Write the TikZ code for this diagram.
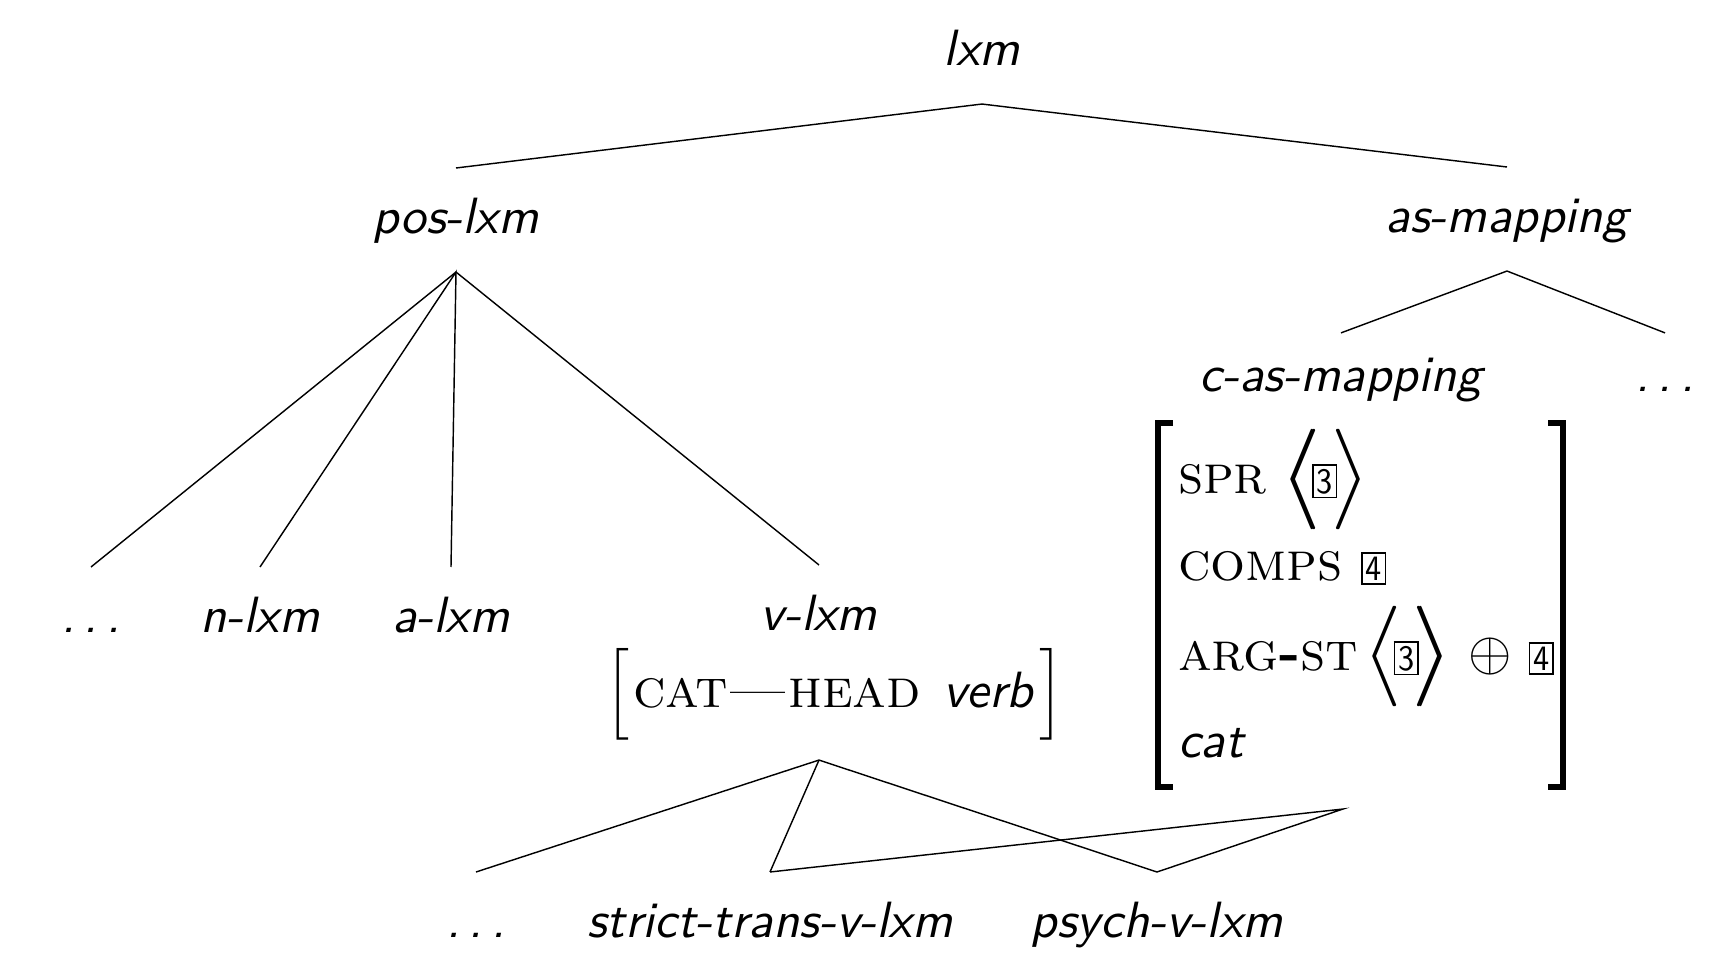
\documentclass[tikz,border=0pt]{standalone}
\usepackage{amsmath}
\newcommand{\tagbox}[1]{{\setlength{\fboxsep}{0.6pt}\setlength{\fboxrule}{0.3pt}\fbox{\scalebox{0.85}[1]{\fontsize{7}{7}\selectfont\sffamily #1}}}}
\newcommand{\sdots}{.\kern0.17em.\kern0.17em.}
\newcommand{\bla}{\makebox[0pt][l]{$\Big\langle$}\kern0.3pt$\Big\langle$\kern-1.6pt}
\newcommand{\bra}{\kern-1.2pt\makebox[0pt][l]{$\Big\rangle$}\kern0.3pt$\Big\rangle$}
\newcommand{\featfont}{\fontsize{10.8}{13}\selectfont}
\begin{document}
\begin{tikzpicture}[x=0.19608pt,y=-0.19608pt,
  lbl/.style={font=\sffamily\itshape, inner sep=0pt, text height=12.55pt, text depth=7.45pt, anchor=base},
  feat/.style={inner sep=0pt, anchor=base west, font=\featfont},
  edge/.style={line width=0.28pt},
  brk/.style={line width=1.1pt}]
\useasboundingbox (0,0) rectangle (1714,952);
% labels
\node[lbl] (lxm) at (982,65) {lxm};
\node[lbl] (poslxm) at (456,233) {pos-lxm};
\node[lbl] (asm) at (1507,232) {as-mapping};
\node[lbl,text height=11.2pt,text depth=1pt] (casm) at (1341,391) {c-as-mapping};
\node[lbl,text height=11.2pt,text depth=1pt] (asdots) at (1665,391) {\sdots};
\node[lbl] (pdots) at (91,632) {\sdots};
\node[lbl] (nlxm) at (260,632) {n-lxm};
\node[lbl] (alxm) at (451,632) {a-lxm};
\node[lbl] (vlxm) at (819,630) {v-lxm};
\node[anchor=base, inner xsep=0pt, inner ysep=3.7pt] (cathead) at (835,707)
  {$\Big[$\kern0.6pt{\featfont\textsc{cat}\kern0.5pt---\kern0.5pt\textsc{head}}\kern4.3pt\textsf{\textit{verb}}\kern1pt$\Big]$};
\node[lbl] (vdots) at (476,937) {\sdots};
\node[lbl] (strict) at (770,937) {strict-trans-v-lxm};
\node[lbl] (psych) at (1157,937) {psych-v-lxm};
% AVM of c-as-mapping
\coordinate (avmnw) at (1158,423);
\coordinate (avmse) at (1563,787);
\draw[brk] ([xshift=15*0.19608pt]avmnw) -- (avmnw) -- (avmnw |- avmse) -- ++(15,0);
\draw[brk] ([xshift=-15*0.19608pt]avmnw -| avmse) -- (avmnw -| avmse) -- (avmse) -- ++(-15,0);
\node[feat] (spr) at (1177,493) {\textsc{spr}\kern3.4pt\bla\tagbox{3}\bra};
\node[feat] (comps) at (1177,580) {\textsc{comps} \tagbox{4}};
\node[feat] (argst) at (1177,670) {\textsc{arg}\textbf{-}\textsc{st}\kern1.6pt\bla\tagbox{3}\bra\kern4pt$\oplus$\kern3.2pt\tagbox{4}};
\node[lbl,anchor=base west,text height=0pt,text depth=0pt] (cat) at (1177,757) {cat};
\coordinate (avmfoot) at (1343,809);
\coordinate (vfoot) at (cathead.south -| vlxm.base);
% edges
\draw[edge] (poslxm.north) -- (lxm.south) -- (asm.north);
\draw[edge] (pdots.north) -- (poslxm.south) -- (vlxm.north);
\draw[edge] (nlxm.north) -- (poslxm.south) -- (alxm.north);
\draw[edge] (casm.north) -- (asm.south) -- (asdots.north);
\draw[edge] (vdots.north) -- (vfoot) -- (psych.north);
\draw[edge] (vfoot) -- (strict.north);
\draw[edge] (strict.north) -- (avmfoot) -- (psych.north);
\end{tikzpicture}
\end{document}
